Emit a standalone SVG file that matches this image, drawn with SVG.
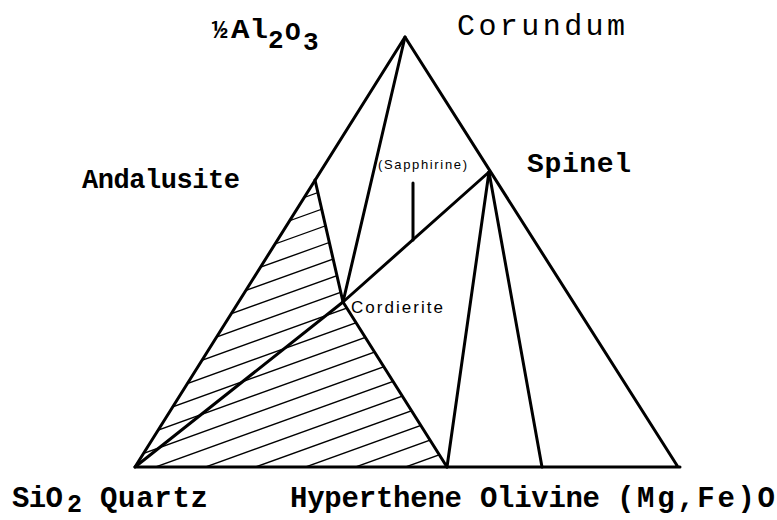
<svg xmlns="http://www.w3.org/2000/svg" width="777" height="520" viewBox="0 0 777 520">
<style>
.lbl{font-family:"Liberation Mono","DejaVu Sans Mono",monospace;font-weight:bold;fill:#000}
.reg{font-weight:normal}
.hand{font-family:"Liberation Sans","DejaVu Sans",sans-serif;fill:#000}
.edge{stroke:#000;stroke-width:3;fill:none;stroke-linecap:round;stroke-linejoin:round}
.hatch line{stroke:#000;stroke-width:1.4}
</style>
<defs>
<clipPath id="hc"><polygon points="135,467 315,180 343,302 447,467"/></clipPath>
</defs>
<rect width="777" height="520" fill="#fff"/>
<g id="hatching" class="hatch" clip-path="url(#hc)">
<line x1="130" y1="260.2" x2="460" y2="141.4"/>
<line x1="130" y1="278.2" x2="460" y2="159.4"/>
<line x1="130" y1="296.2" x2="460" y2="177.4"/>
<line x1="130" y1="314.2" x2="460" y2="195.4"/>
<line x1="130" y1="332.2" x2="460" y2="213.4"/>
<line x1="130" y1="350.2" x2="460" y2="231.4"/>
<line x1="130" y1="368.2" x2="460" y2="249.4"/>
<line x1="130" y1="386.2" x2="460" y2="267.4"/>
<line x1="130" y1="404.2" x2="460" y2="285.4"/>
<line x1="130" y1="422.2" x2="460" y2="303.4"/>
<line x1="130" y1="440.2" x2="460" y2="321.4"/>
<line x1="130" y1="458.2" x2="460" y2="339.4"/>
<line x1="130" y1="476.2" x2="460" y2="357.4"/>
<line x1="130" y1="494.2" x2="460" y2="375.4"/>
<line x1="130" y1="512.2" x2="460" y2="393.4"/>
<line x1="130" y1="530.2" x2="460" y2="411.4"/>
<line x1="130" y1="548.2" x2="460" y2="429.4"/>
<line x1="130" y1="566.2" x2="460" y2="447.4"/>
</g>
<g id="connectors" class="edge">
<polyline points="680,467 135,467 405,37 678,467"/>
<line x1="405" y1="37" x2="343" y2="302"/>
<polyline points="315,180 343,302 447,467"/>
<line x1="135" y1="467" x2="343" y2="302"/>
<line x1="343" y1="302" x2="489" y2="172"/>
<line x1="489" y1="172" x2="447" y2="467"/>
<line x1="489" y1="172" x2="542" y2="467"/>
<line x1="413" y1="183" x2="413" y2="240"/>
</g>
<g id="node-alumina">
<text class="lbl" x="212" y="38" font-size="26">½</text>
<text class="lbl" x="231" y="38" font-size="27" textLength="37" lengthAdjust="spacingAndGlyphs">Al</text>
<text class="lbl" x="268" y="48" font-size="26">2</text>
<text class="lbl" x="285" y="40" font-size="26">O</text>
<text class="lbl" x="303" y="50" font-size="26">3</text>
</g>
<g id="node-corundum">
<text class="lbl reg" x="457" y="35" font-size="30" textLength="168" lengthAdjust="spacing">Corundum</text>
</g>
<g id="node-andalusite">
<text class="lbl" x="82" y="188" font-size="27" textLength="158" lengthAdjust="spacing">Andalusite</text>
</g>
<g id="node-spinel">
<text class="lbl" x="527" y="172" font-size="28" textLength="104" lengthAdjust="spacing">Spinel</text>
</g>
<g id="node-sapphirine">
<text class="hand" x="378" y="169" font-size="13" textLength="89" lengthAdjust="spacing">(Sapphirine)</text>
</g>
<g id="node-cordierite">
<text class="hand" x="351" y="313" font-size="17" textLength="92" lengthAdjust="spacing">Cordierite</text>
</g>
<g id="node-quartz">
<text class="lbl" x="12" y="507" font-size="29" textLength="51" lengthAdjust="spacing">SiO</text>
<text class="lbl" x="67" y="512" font-size="25">2</text>
<text class="lbl" x="100" y="507" font-size="29" textLength="108" lengthAdjust="spacing">Quartz</text>
</g>
<g id="node-hypersthene">
<text class="lbl" x="290" y="507" font-size="29" textLength="172" lengthAdjust="spacing">Hyperthene</text>
</g>
<g id="node-olivine">
<text class="lbl" x="480" y="507" font-size="29" textLength="120" lengthAdjust="spacing">Olivine</text>
<text class="lbl" x="617" y="507" font-size="29" textLength="158" lengthAdjust="spacing">(Mg,Fe)O</text>
</g>
</svg>
